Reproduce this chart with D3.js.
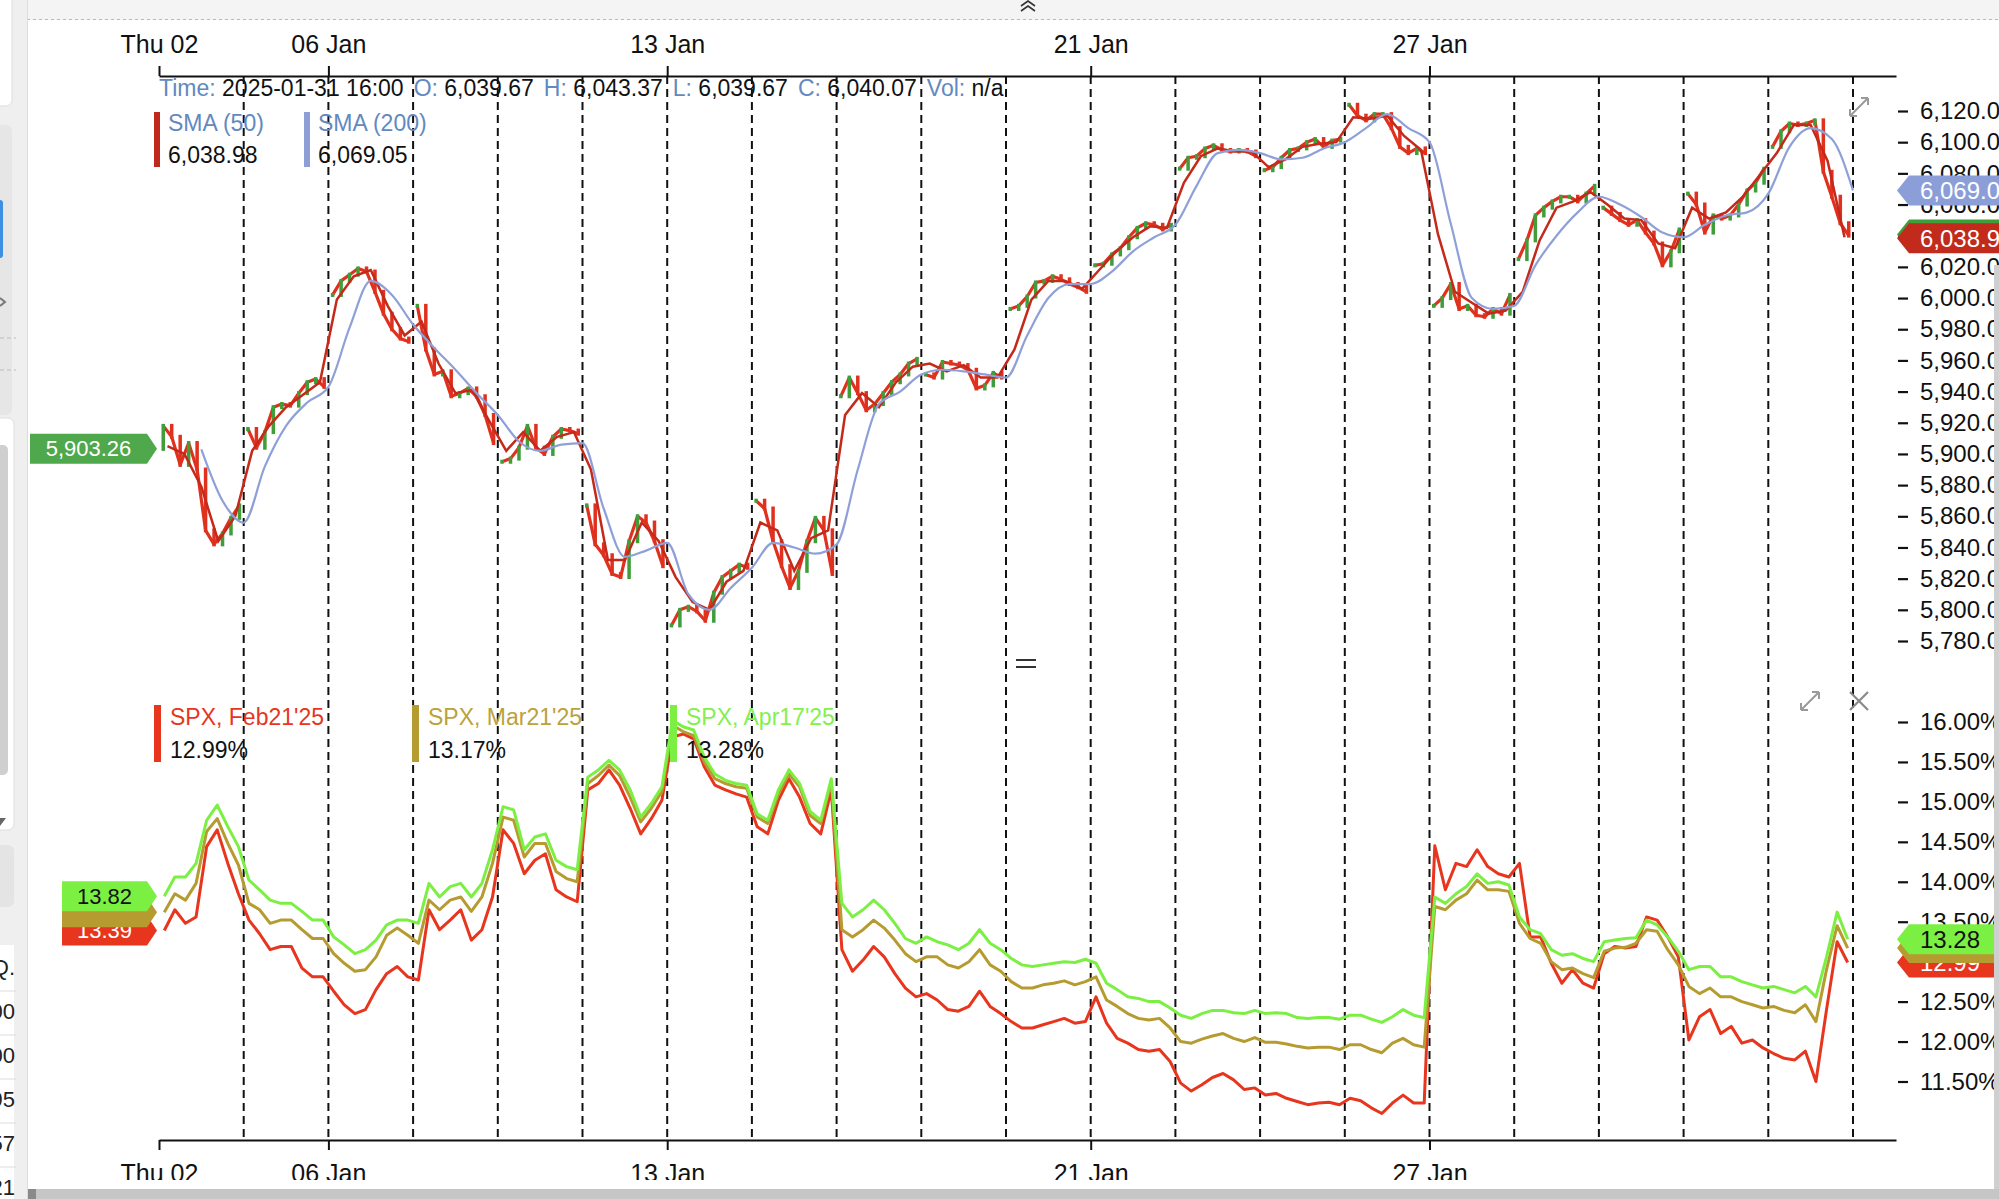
<!DOCTYPE html>
<html>
<head>
<meta charset="utf-8">
<script src="https://cdn.jsdelivr.net/npm/d3@7"></script>
<style>
  body { margin: 0; background: #fff; }
  svg { display: block; font-family: "Liberation Sans", Arial, sans-serif; }
</style>
</head>
<body>
<div id="chart"></div>
<script>
// ---- data ----
const tradingDays = ["2025-01-02","2025-01-03","2025-01-06","2025-01-07","2025-01-08","2025-01-10",
  "2025-01-13","2025-01-14","2025-01-15","2025-01-16","2025-01-17","2025-01-21","2025-01-22",
  "2025-01-23","2025-01-24","2025-01-27","2025-01-28","2025-01-29","2025-01-30","2025-01-31"];
const dateTickDays = [0, 2, 6, 11, 15];
const dateTickLabels = ["Thu 02", "06 Jan", "13 Jan", "21 Jan", "27 Jan"];

const priceOpen = 5903.26;
// 10 closes per trading day
const priceClose = [
  5918,5911,5893,5907,5890,5851,5842,5849,5859,5867,
  5916,5904,5914,5930,5932,5931,5939,5946,5948,5943,
  6002,6011,6015,6019,6017,6004,5990,5980,5974,5972,
  5995,5967,5951,5953,5937,5939,5942,5937,5925,5907,
  5895,5897,5904,5918,5904,5900,5911,5916,5915,5913,
  5867,5842,5835,5823,5821,5844,5860,5856,5844,5828,
  5790,5800,5802,5799,5793,5811,5821,5825,5829,5827,
  5870,5865,5844,5828,5814,5825,5844,5859,5851,5823,
  5937,5949,5939,5928,5932,5939,5946,5951,5958,5961,
  5951,5949,5959,5958,5957,5954,5942,5944,5952,5949,
  5993,5995,6001,6010,6011,6014,6012,6009,6007,6004,
  6021,6022,6028,6032,6039,6045,6048,6047,6044,6047,
  6083,6090,6091,6096,6098,6095,6094,6095,6094,6091,
  6082,6084,6090,6095,6096,6100,6102,6097,6101,6102,
  6124,6117,6114,6118,6118,6109,6097,6093,6096,6093,
  5995,6000,6009,5993,5995,5989,5988,5993,5990,6002,
  6025,6037,6053,6058,6062,6065,6065,6062,6067,6072,
  6058,6054,6050,6047,6050,6042,6035,6021,6030,6044,
  6067,6060,6042,6053,6051,6053,6060,6069,6074,6083,
  6097,6107,6112,6111,6112,6114,6081,6065,6048,6040.07
];
// SMA (50): 5 points per day
const sma50 = [
  5905,5900,5879,5844,5860, 5902,5918,5930,5938,5946, 5999,6014,6018,5995,5976,
  5985,5958,5939,5941,5921, 5902,5914,5902,5911,5914, 5890,5832,5832,5856,5844,
  5821,5805,5800,5818,5825, 5856,5851,5825,5846,5851, 5925,5939,5930,5946,5956,
  5958,5953,5957,5949,5949, 5967,5999,6011,6011,6006, 6018,6030,6039,6046,6045,
  6074,6091,6096,6094,6094, 6084,6089,6097,6099,6100, 6116,6115,6117,6104,6095,
  6041,6004,5997,5990,5992, 6004,6037,6058,6062,6068, 6060,6051,6050,6035,6032,
  6058,6051,6055,6065,6079, 6093,6111,6111,6088,6038.98
];
// SMA (200): every quarter day, starting half way through 2 Jan
const sma200 = [
  5903,5870,5856,5892,5918,5933,5943,5981,6011,6002,5983,5968,5954,5939,5925,
  5908,5902,5906,5907,5865,5834,5838,5843,5810,5800,5814,5827,5843,5840,5836,
  5842,5890,5932,5940,5951,5954,5953,5951,5949,5976,6000,6009,6009,6017,6030,
  6039,6047,6072,6093,6095,6093,6089,6090,6096,6100,6109,6118,6109,6100,6048,
  6000,5993,5995,6021,6040,6055,6065,6060,6052,6042,6039,6047,6053,6055,6067,
  6097,6109,6102,6069.05
];
const priceTicks = [6120,6100,6080,6060,6040,6020,6000,5980,5960,5940,5920,5900,
  5880,5860,5840,5820,5800,5780];

// implied vol, 8 points per day
const ivFeb21 = [
  13.39,13.65,13.48,13.56,14.44,14.65,14.23,13.85, 13.52,13.35,13.15,13.19,13.19,12.92,12.81,12.81,
  12.63,12.46,12.35,12.40,12.65,12.85,12.94,12.81, 12.77,13.65,13.40,13.52,13.65,13.27,13.40,13.81,
  14.65,14.48,14.10,14.27,14.35,13.90,13.81,13.75, 15.15,15.23,15.40,15.21,14.92,14.60,14.79,15.02,
  15.81,15.85,15.79,15.44,15.21,15.15,15.10,15.06, 14.69,14.60,15.02,15.29,15.06,14.73,14.60,15.15,
  13.15,12.88,13.02,13.19,13.06,12.85,12.67,12.56, 12.60,12.52,12.40,12.38,12.44,12.63,12.44,12.35,
  12.25,12.17,12.17,12.21,12.25,12.29,12.23,12.25, 12.56,12.23,12.04,11.98,11.90,11.88,11.90,11.75,
  11.48,11.38,11.46,11.55,11.60,11.52,11.40,11.42, 11.33,11.35,11.29,11.25,11.21,11.23,11.24,11.21,
  11.29,11.26,11.17,11.10,11.23,11.33,11.23,11.23, 14.45,13.90,14.23,14.19,14.40,14.19,14.10,14.06,
  14.23,13.31,13.31,12.98,12.73,12.90,12.73,12.67, 13.10,13.19,13.17,13.19,13.56,13.52,13.31,13.06,
  12.02,12.31,12.40,12.10,12.19,11.98,12.02,11.92, 11.85,11.79,11.77,11.88,11.50,12.40,13.25,12.99
];
const ivMar21 = [
  13.62,13.85,13.77,13.98,14.63,14.79,14.48,14.21, 13.73,13.65,13.48,13.52,13.52,13.40,13.29,13.29,
  13.10,12.98,12.88,12.90,13.06,13.33,13.42,13.33, 13.23,13.77,13.65,13.77,13.81,13.63,13.81,14.23,
  14.81,14.77,14.31,14.48,14.48,14.13,14.04,14.00, 15.23,15.33,15.46,15.33,15.06,14.75,14.92,15.13,
  15.96,15.88,15.83,15.50,15.29,15.23,15.19,15.17, 14.81,14.73,15.10,15.35,15.19,14.83,14.73,15.25,
  13.40,13.31,13.40,13.52,13.42,13.27,13.10,13.00, 13.06,13.06,12.96,12.92,13.00,13.15,12.96,12.88,
  12.75,12.67,12.67,12.71,12.73,12.76,12.71,12.75, 12.81,12.52,12.44,12.35,12.29,12.27,12.29,12.17,
  12.00,11.98,12.03,12.07,12.10,12.04,12.00,12.05, 11.99,11.99,11.97,11.94,11.92,11.93,11.93,11.90,
  11.96,11.96,11.90,11.86,11.98,12.04,11.96,11.93, 13.69,13.65,13.77,13.85,14.02,13.90,13.90,13.88,
  13.48,13.29,13.23,13.00,12.90,12.92,12.85,12.80, 13.13,13.17,13.18,13.23,13.40,13.38,13.15,12.96,
  12.69,12.60,12.67,12.56,12.56,12.50,12.46,12.42, 12.44,12.39,12.36,12.46,12.25,12.90,13.45,13.17
];
const ivApr17 = [
  13.82,14.06,14.06,14.23,14.77,14.96,14.69,14.44, 14.02,13.90,13.77,13.73,13.73,13.63,13.52,13.52,
  13.31,13.21,13.10,13.15,13.27,13.46,13.52,13.52, 13.48,13.98,13.81,13.94,13.98,13.81,13.98,14.40,
  14.94,14.90,14.40,14.56,14.60,14.27,14.19,14.15, 15.31,15.40,15.52,15.40,15.15,14.81,14.98,15.19,
  16.02,15.94,15.90,15.56,15.35,15.27,15.23,15.21, 14.85,14.77,15.15,15.40,15.23,14.88,14.77,15.29,
  13.73,13.56,13.65,13.77,13.65,13.48,13.29,13.23, 13.31,13.25,13.21,13.15,13.23,13.40,13.23,13.15,
  13.04,12.96,12.94,12.96,12.98,13.00,12.99,13.03, 12.98,12.73,12.65,12.56,12.54,12.50,12.50,12.42,
  12.33,12.29,12.35,12.39,12.39,12.36,12.35,12.39, 12.35,12.36,12.35,12.30,12.29,12.30,12.30,12.28,
  12.33,12.33,12.28,12.24,12.31,12.40,12.33,12.30, 13.81,13.73,13.85,13.94,14.10,13.98,14.00,13.96,
  13.56,13.40,13.35,13.15,13.08,13.10,13.04,13.00, 13.25,13.27,13.29,13.30,13.52,13.46,13.31,13.13,
  12.90,12.94,12.94,12.81,12.81,12.75,12.71,12.67, 12.69,12.65,12.61,12.69,12.56,13.06,13.62,13.28
];
const ivTicks = [16, 15.5, 15, 14.5, 14, 13.5, 13, 12.5, 12, 11.5];

const infoFields = [
  ["Time: ", "2025-01-31 16:00"], ["O: ", "6,039.67"], ["H: ", "6,043.37"],
  ["L: ", "6,039.67"], ["C: ", "6,040.07"], ["Vol: ", "n/a"]
];
const ivSeries = [
  { name: "SPX, Feb21'25", values: ivFeb21, color: "#e8351e", text: "#e8351e", legendX: 154, flagText: "#fff", showFlag: true },
  { name: "SPX, Mar21'25", values: ivMar21, color: "#b59b30", text: "#bba23a", legendX: 412, flagText: "#fff", showFlag: false },
  { name: "SPX, Apr17'25", values: ivApr17, color: "#7bf043", text: "#84f04e", legendX: 670, flagText: "#111", showFlag: true }
];

// ---- layout ----
const W = 1999, H = 1199;
const blueLabel = "#6289c0";
const fmtPrice = d3.format(",.2f");

const svg = d3.select("#chart").append("svg").attr("width", W).attr("height", H);

const x = d3.scaleLinear().domain([0, tradingDays.length]).range([159, 1853]);
const xAxisScale = x.copy().domain([0, x.invert(1896)]).range([159, 1896]);
const yP = d3.scaleLinear().domain([5780, 6120]).range([641, 111]);
const yV = d3.scaleLinear().domain([11.5, 16]).range([1081.5, 722]);

// page chrome
svg.append("rect").attr("width", W).attr("height", 20).attr("fill", "#f4f4f4");
svg.append("line").attr("x1", 27).attr("x2", W).attr("y1", 19.5).attr("y2", 19.5)
  .attr("stroke", "#b9b9b9").attr("stroke-dasharray", "3,3");
svg.append("path").attr("d", "M1021,6 L1028,1 L1035,6 M1021,11 L1028,6 L1035,11")
  .attr("fill", "none").attr("stroke", "#333").attr("stroke-width", 1.6);

const side = svg.append("g");
side.append("rect").attr("width", 27).attr("height", H).attr("fill", "#efefef");
side.append("rect").attr("x", -10).attr("y", -6).attr("width", 22).attr("height", 112).attr("rx", 6)
  .attr("fill", "#fff").attr("stroke", "#ddd");
side.append("rect").attr("x", -10).attr("y", 125).attr("width", 22).attr("height", 290).attr("rx", 6)
  .attr("fill", "#e6e6e6");
side.append("rect").attr("x", -6).attr("y", 200).attr("width", 9).attr("height", 58).attr("rx", 3)
  .attr("fill", "#3d8fe2");
side.append("path").attr("d", "M0,298 L5,302 L0,306").attr("fill", "none").attr("stroke", "#777").attr("stroke-width", 2);
[338, 370].forEach(y => side.append("line").attr("x1", 0).attr("x2", 16).attr("y1", y).attr("y2", y)
  .attr("stroke", "#bbb").attr("stroke-dasharray", "4,3"));
side.append("rect").attr("x", -10).attr("y", 418).attr("width", 24).attr("height", 412).attr("rx", 6)
  .attr("fill", "#fff").attr("stroke", "#ddd");
side.append("rect").attr("x", -4).attr("y", 445).attr("width", 12).attr("height", 330).attr("rx", 5)
  .attr("fill", "#cfcfcf");
side.append("path").attr("d", "M0,818 L6,818 L0,826Z").attr("fill", "#666");
side.append("rect").attr("x", -10).attr("y", 845).attr("width", 24).attr("height", 62).attr("rx", 6)
  .attr("fill", "#e4e4e4");
side.append("rect").attr("x", -10).attr("y", 945).attr("width", 24).attr("height", 260)
  .attr("fill", "#fff");
["Q.", "00", "00", "95", "57", "21"].forEach((t, i) => {
  side.append("text").attr("x", 15).attr("y", 969 + i * 44).attr("text-anchor", "end")
    .attr("dominant-baseline", "middle").attr("font-size", 22).attr("fill", "#222").text(t);
  side.append("line").attr("x1", 0).attr("x2", 16).attr("y1", 991 + i * 44).attr("y2", 991 + i * 44)
    .attr("stroke", "#ddd");
});
svg.append("line").attr("x1", 27.5).attr("x2", 27.5).attr("y1", 0).attr("y2", H).attr("stroke", "#dcdcdc");

// day separators
svg.append("g").selectAll("line")
  .data(d3.range(1, tradingDays.length + 1))
  .join("line")
  .attr("x1", d => x(d)).attr("x2", d => x(d))
  .attr("y1", 76).attr("y2", 1140)
  .attr("stroke", "#111").attr("stroke-width", 2).attr("stroke-dasharray", "8,5");

// time axes
function styleAxis(g) {
  g.select(".domain").attr("stroke", "#111").attr("stroke-width", 2);
  g.selectAll(".tick line").attr("stroke", "#111").attr("stroke-width", 2);
  g.selectAll(".tick text").attr("fill", "#111").attr("font-size", 25)
    .attr("font-family", '"Liberation Sans", Arial, sans-serif');
}
svg.append("g").attr("transform", "translate(0,76)")
  .call(d3.axisTop(xAxisScale).tickValues(dateTickDays)
    .tickFormat((d, i) => dateTickLabels[i]).tickSize(10).tickSizeOuter(0).tickPadding(13))
  .call(styleAxis);
svg.append("g").attr("transform", "translate(0,1140)")
  .call(d3.axisBottom(xAxisScale).tickValues(dateTickDays)
    .tickFormat((d, i) => dateTickLabels[i]).tickSize(10).tickSizeOuter(0).tickPadding(14))
  .call(styleAxis);

// value axes
function styleValueAxis(g) {
  g.select(".domain").remove();
  g.selectAll(".tick line").attr("stroke", "#111").attr("stroke-width", 2.2);
  g.selectAll(".tick text").attr("fill", "#111").attr("font-size", 24)
    .attr("font-family", '"Liberation Sans", Arial, sans-serif');
}
svg.append("g").attr("transform", "translate(1898,0)")
  .call(d3.axisRight(yP).tickValues(priceTicks).tickFormat(fmtPrice).tickSize(10).tickPadding(12))
  .call(styleValueAxis);
svg.append("g").attr("transform", "translate(1898,0)")
  .call(d3.axisRight(yV).tickValues(ivTicks).tickFormat(d => d.toFixed(2) + "%").tickSize(10).tickPadding(12))
  .call(styleValueAxis);

// ---- price panel ----
const perDay = 10;
const candles = priceClose.map((c, i) => {
  const k = i % perDay;
  const o = i === 0 ? priceOpen : (k === 0 ? c : priceClose[i - 1]);
  return { t: Math.floor(i / perDay) + (k + 0.5) / perDay, o, c, day: Math.floor(i / perDay) };
});
const pricePlot = svg.append("g");
const closeLine = d3.line().x(d => x(d.t)).y(d => yP(d.c));
pricePlot.selectAll("path.close")
  .data(d3.groups(candles, d => d.day).map(g => g[1]))
  .join("path").attr("class", "close")
  .attr("d", closeLine).attr("fill", "none")
  .attr("stroke", "#e0311f").attr("stroke-width", 3.2).attr("stroke-linejoin", "round");
pricePlot.selectAll("rect")
  .data(candles)
  .join("rect")
  .attr("x", d => x(d.t) - 1.75).attr("width", 3.5)
  .attr("y", d => Math.min(yP(d.o), yP(d.c)) - 2)
  .attr("height", d => Math.abs(yP(d.o) - yP(d.c)) + 4)
  .attr("fill", d => d.c >= d.o ? "#3f9d3a" : "#e0311f");

const smaLine = d3.line().x(d => x(d.t)).y(d => yP(d.v));
const sma50Pts = sma50.map((v, i) => ({ t: Math.floor(i / 5) + (i % 5 + 0.5) / 5, v }));
const sma200Pts = sma200.map((v, i) => ({ t: 0.5 + i * 0.25, v }));
pricePlot.append("path").datum(sma50Pts).attr("d", smaLine)
  .attr("fill", "none").attr("stroke", "#c4291a").attr("stroke-width", 2.5);
pricePlot.append("path").datum(sma200Pts).attr("d", smaLine.curve(d3.curveMonotoneX))
  .attr("fill", "none").attr("stroke", "#8fa0d8").attr("stroke-width", 2.2);

// legend, price panel
const info = svg.append("text").attr("x", 159).attr("y", 96).attr("font-size", 23);
infoFields.forEach(([k, v], i) => {
  info.append("tspan").attr("dx", i ? 10 : 0).attr("fill", blueLabel).text(k);
  info.append("tspan").attr("fill", "#111").text(v);
});
const smaLegend = [
  { label: "SMA (50)", value: sma50[sma50.length - 1], color: "#c0281c", lx: 154 },
  { label: "SMA (200)", value: sma200[sma200.length - 1], color: "#8e9fd6", lx: 304 }
];
smaLegend.forEach(s => {
  svg.append("rect").attr("x", s.lx).attr("y", 112).attr("width", 6).attr("height", 55).attr("fill", s.color);
  svg.append("text").attr("x", s.lx + 14).attr("y", 131).attr("font-size", 23).attr("fill", blueLabel).text(s.label);
  svg.append("text").attr("x", s.lx + 14).attr("y", 163).attr("font-size", 23).attr("fill", "#111").text(fmtPrice(s.value));
});

// ---- IV panel ----
const ivPerDay = 8;
const ivLine = d3.line()
  .x((d, i) => x(Math.floor(i / ivPerDay) + (i % ivPerDay + 0.5) / ivPerDay))
  .y(d => yV(d));
svg.append("g").selectAll("path")
  .data(ivSeries)
  .join("path")
  .attr("d", d => ivLine(d.values))
  .attr("fill", "none").attr("stroke", d => d.color).attr("stroke-width", 3)
  .attr("stroke-linejoin", "round");

ivSeries.forEach(s => {
  svg.append("rect").attr("x", s.legendX).attr("y", 705).attr("width", 7).attr("height", 57).attr("fill", s.color);
  svg.append("text").attr("x", s.legendX + 16).attr("y", 725).attr("font-size", 23).attr("fill", s.text).text(s.name);
  svg.append("text").attr("x", s.legendX + 16).attr("y", 758).attr("font-size", 23).attr("fill", "#111")
    .text(s.values[s.values.length - 1].toFixed(2) + "%");
});

// ---- value flags ----
function rightFlag(cy, fill, label, textFill) {
  const tip = 1897, h = 15;
  svg.append("path")
    .attr("d", `M${tip},${cy} L${tip + 12},${cy - h} L${W + 5},${cy - h} L${W + 5},${cy + h} L${tip + 12},${cy + h}Z`)
    .attr("fill", fill);
  if (label) svg.append("text").attr("x", 1920).attr("y", cy).attr("dominant-baseline", "central")
    .attr("font-size", 24).attr("fill", textFill).text(label);
}
function leftFlag(cy, x0, fill, label, textFill) {
  const tip = 157, h = 15;
  svg.append("path")
    .attr("d", `M${x0},${cy - h} L${tip - 10},${cy - h} L${tip},${cy} L${tip - 10},${cy + h} L${x0},${cy + h}Z`)
    .attr("fill", fill);
  if (label) svg.append("text").attr("x", (x0 + tip - 10) / 2).attr("y", cy).attr("dominant-baseline", "central")
    .attr("text-anchor", "middle").attr("font-size", 22).attr("fill", textFill).text(label);
}
const lastClose = priceClose[priceClose.length - 1];
rightFlag(yP(sma200[sma200.length - 1]), "#8c9ed8", fmtPrice(sma200[sma200.length - 1]), "#fff");
rightFlag(yP(lastClose) - 1, "#3f9d3a", fmtPrice(lastClose), "#fff");
rightFlag(yP(sma50[sma50.length - 1]) + 1, "#c22a1b", fmtPrice(sma50[sma50.length - 1]), "#fff");
leftFlag(yP(priceOpen), 30, "#4fa84b", fmtPrice(priceOpen), "#fff");

ivSeries.forEach(s => {
  const last = s.values[s.values.length - 1], first = s.values[0];
  rightFlag(yV(last), s.color, s.showFlag ? last.toFixed(2) : "", s.flagText);
  leftFlag(yV(first), 62, s.color, s.showFlag ? first.toFixed(2) : "", s.flagText);
});

// panel icons
function expandIcon(cx, cy) {
  svg.append("path")
    .attr("d", `M${cx - 9},${cy + 9} L${cx + 9},${cy - 9} M${cx - 9},${cy + 9} l0,-7 M${cx - 9},${cy + 9} l7,0 M${cx + 9},${cy - 9} l0,7 M${cx + 9},${cy - 9} l-7,0`)
    .attr("fill", "none").attr("stroke", "#9a9a9a").attr("stroke-width", 2);
}
expandIcon(1859, 107);
expandIcon(1810, 701);
svg.append("path").attr("d", "M1850,692 L1868,710 M1868,692 L1850,710")
  .attr("stroke", "#8a8a8a").attr("stroke-width", 2.2);
svg.append("path").attr("d", "M1016,660 L1036,660 M1016,667 L1036,667")
  .attr("stroke", "#333").attr("stroke-width", 2);

// bottom scrollbar and right edge
svg.append("rect").attr("x", 28).attr("y", 1180).attr("width", W).attr("height", 9).attr("fill", "#fff");
svg.append("rect").attr("x", 28).attr("y", 1189).attr("width", W).attr("height", 10).attr("fill", "#c6c6c6");
svg.append("rect").attr("x", 28).attr("y", 1189).attr("width", 8).attr("height", 10).attr("fill", "#8a8a8a");
svg.append("rect").attr("x", 1994).attr("y", 265).attr("width", 5).attr("height", 924).attr("fill", "#cfcfcf");
</script>
</body>
</html>
